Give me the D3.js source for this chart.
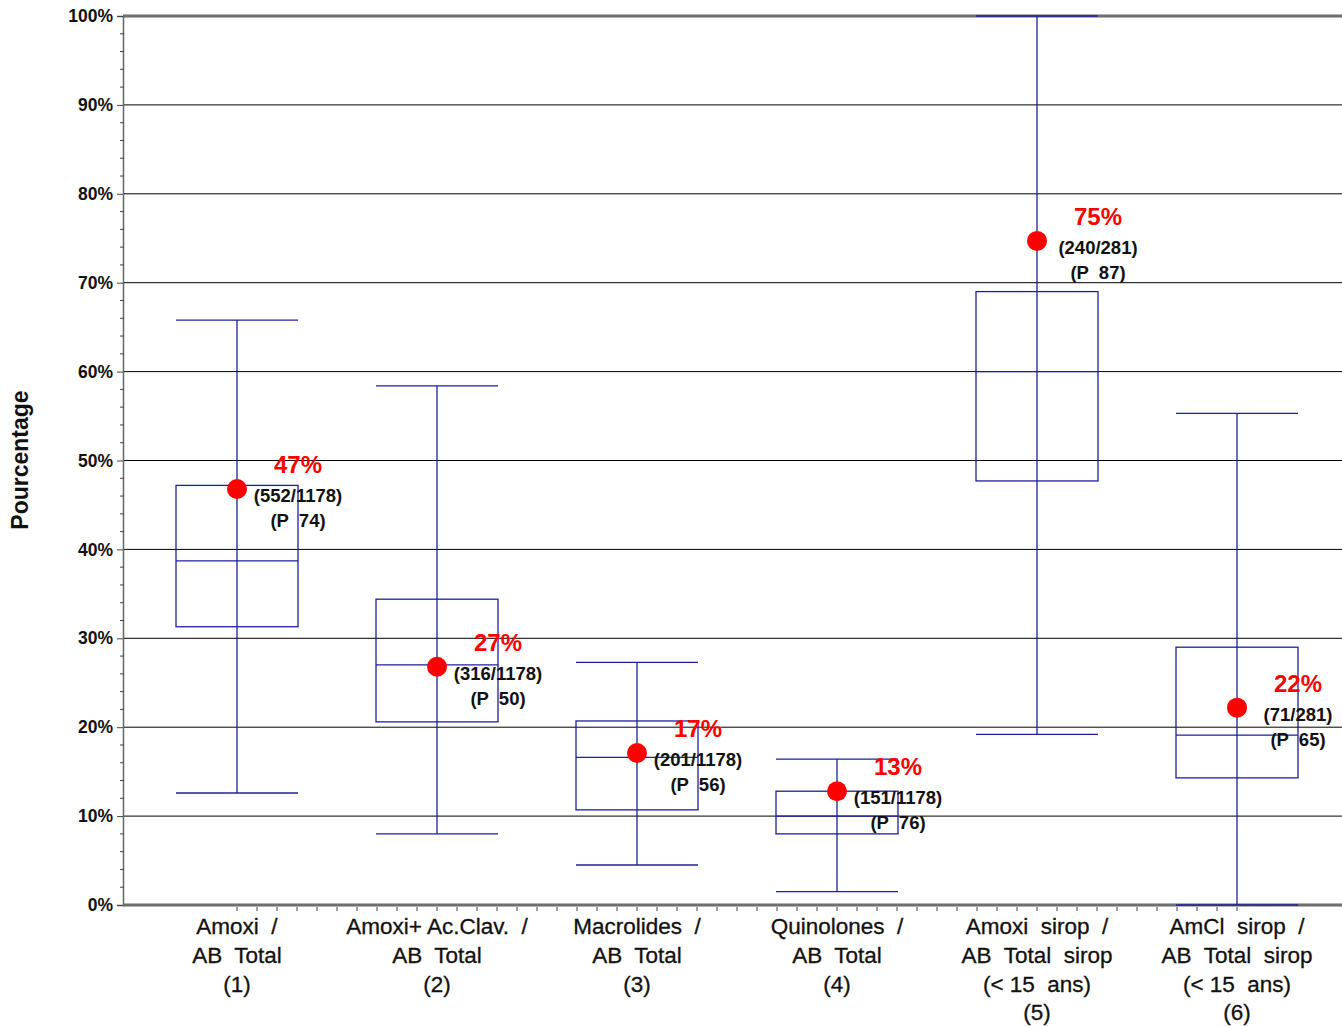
<!DOCTYPE html>
<html>
<head>
<meta charset="utf-8">
<script src="https://cdn.jsdelivr.net/npm/d3@7"></script>
<style>
  body { margin: 0; background: #fff; }
  svg { font-family: "Liberation Sans", Arial, sans-serif; }
</style>
</head>
<body>
<div class="chart"></div>
<script>
var categories = ["c1", "c2", "c3", "c4", "c5", "c6"];
var catLabels = [
    ["Amoxi  /", "AB  Total", "(1)"],
    ["Amoxi+ Ac.Clav.  /", "AB  Total", "(2)"],
    ["Macrolides  /", "AB  Total", "(3)"],
    ["Quinolones  /", "AB  Total", "(4)"],
    ["Amoxi  sirop  /", "AB  Total  sirop", "(< 15  ans)", "(5)"],
    ["AmCl  sirop  /", "AB  Total  sirop", "(< 15  ans)", "(6)"]
];
var whiskerLow  = [12.6, 8.0, 4.5, 1.5, 19.2, 0];
var q1          = [31.3, 20.6, 10.7, 8.0, 47.7, 14.3];
var median      = [38.7, 27.0, 16.6, 10.0, 60.0, 19.1];
var q3          = [47.2, 34.4, 20.7, 12.8, 69.0, 29.0];
var whiskerHigh = [65.8, 58.4, 27.3, 16.4, 100, 55.3];
var pointValue  = [46.8, 26.8, 17.1, 12.8, 74.7, 22.2];
var pctLabels   = ["47%", "27%", "17%", "13%", "75%", "22%"];
var countLabels = ["(552/1178)", "(316/1178)", "(201/1178)", "(151/1178)", "(240/281)", "(71/281)"];
var pLabels     = ["(P  74)", "(P  50)", "(P  56)", "(P  76)", "(P  87)", "(P  65)"];
var yTicks = [0, 10, 20, 30, 40, 50, 60, 70, 80, 90, 100];

var chartW = 1342, chartH = 1026;
var plotLeft = 123, plotTop = 16, plotBottom = 905;
var boxColor = "#1f1f9e";

var svg = d3.select(".chart").append("svg")
    .attr("width", chartW)
    .attr("height", chartH);

var y = d3.scaleLinear().domain([0, 100]).range([plotBottom, plotTop]);
var x = d3.scaleBand().domain(categories).range([137, 1337]).padding(0);
var cx = function(i) { return x(categories[i]) + x.bandwidth() / 2; };
var boxW = x.bandwidth() * 0.61;

// gridlines
svg.append("g").selectAll("line")
    .data(yTicks.filter(function(d) { return d > 0 && d < 100; }))
    .join("line")
    .attr("x1", plotLeft).attr("x2", chartW)
    .attr("y1", function(d) { return y(d); })
    .attr("y2", function(d) { return y(d); })
    .attr("stroke", "#000")
    .attr("stroke-width", 1);

// frame top & bottom (double grey lines)
[0, 100].forEach(function(v) {
    svg.append("line")
        .attr("x1", plotLeft).attr("x2", chartW)
        .attr("y1", y(v)).attr("y2", y(v))
        .attr("stroke", "#999").attr("stroke-width", 3.5);
    svg.append("line")
        .attr("x1", plotLeft).attr("x2", chartW)
        .attr("y1", y(v)).attr("y2", y(v))
        .attr("stroke", "#444").attr("stroke-width", 1);
});

// y axis
var yAxis = svg.append("g")
    .attr("transform", "translate(" + plotLeft + ",0)")
    .call(d3.axisLeft(y).tickValues(yTicks).tickSize(6).tickPadding(4)
        .tickFormat(function(d) { return d + "%"; }));
yAxis.select(".domain").attr("stroke", "#666").attr("stroke-width", 1.5);
yAxis.selectAll(".tick line").attr("stroke", "#444");
yAxis.selectAll("text")
    .attr("font-size", 17.5)
    .attr("font-weight", "bold")
    .attr("fill", "#111")
    .attr("font-family", "Liberation Sans, Arial, sans-serif");

svg.append("g").selectAll("line")
    .data(d3.range(0, 100, 2).filter(function(d) { return d % 10 !== 0; }))
    .join("line")
    .attr("x1", plotLeft - 3).attr("x2", plotLeft + 1)
    .attr("y1", function(d) { return y(d); })
    .attr("y2", function(d) { return y(d); })
    .attr("stroke", "#444");

// x minor ticks
var xMinor = d3.scaleLinear().domain([0, categories.length - 1]).range([cx(0), cx(categories.length - 1)]);
svg.append("g").selectAll("line")
    .data(d3.range(0, 50.5, 1).map(function(d) { return d / 10; }))
    .join("line")
    .attr("x1", function(d) { return xMinor(d); })
    .attr("x2", function(d) { return xMinor(d); })
    .attr("y1", plotBottom + 2).attr("y2", plotBottom + 6)
    .attr("stroke", "#444");

// y title
svg.append("text")
    .attr("transform", "translate(28,460) rotate(-90)")
    .attr("text-anchor", "middle")
    .attr("font-size", 23)
    .attr("font-weight", "bold")
    .attr("fill", "#111")
    .text("Pourcentage");

// boxes
var boxes = svg.append("g").selectAll("g")
    .data(categories)
    .join("g");

boxes.append("line")
    .attr("x1", function(d, i) { return cx(i); })
    .attr("x2", function(d, i) { return cx(i); })
    .attr("y1", function(d, i) { return y(whiskerLow[i]); })
    .attr("y2", function(d, i) { return y(whiskerHigh[i]); })
    .attr("stroke", boxColor).attr("stroke-width", 1.3);

boxes.append("rect")
    .attr("x", function(d, i) { return cx(i) - boxW / 2; })
    .attr("y", function(d, i) { return y(q3[i]); })
    .attr("width", boxW)
    .attr("height", function(d, i) { return y(q1[i]) - y(q3[i]); })
    .attr("fill", "none")
    .attr("stroke", boxColor).attr("stroke-width", 1.3);

[whiskerLow, median, whiskerHigh].forEach(function(arr) {
    boxes.append("line")
        .attr("x1", function(d, i) { return cx(i) - boxW / 2; })
        .attr("x2", function(d, i) { return cx(i) + boxW / 2; })
        .attr("y1", function(d, i) { return y(arr[i]); })
        .attr("y2", function(d, i) { return y(arr[i]); })
        .attr("stroke", boxColor).attr("stroke-width", 1.3);
});

// points
boxes.append("circle")
    .attr("cx", function(d, i) { return cx(i); })
    .attr("cy", function(d, i) { return y(pointValue[i]); })
    .attr("r", 10)
    .attr("fill", "#ff0000");

// annotations
boxes.append("text")
    .attr("x", function(d, i) { return cx(i) + 61; })
    .attr("y", function(d, i) { return y(pointValue[i]) - 16; })
    .attr("text-anchor", "middle")
    .attr("font-size", 24)
    .attr("font-weight", "bold")
    .attr("fill", "#ff0000")
    .text(function(d, i) { return pctLabels[i]; });

boxes.append("text")
    .attr("x", function(d, i) { return cx(i) + 61; })
    .attr("y", function(d, i) { return y(pointValue[i]) + 13; })
    .attr("text-anchor", "middle")
    .attr("font-size", 18.5)
    .attr("font-weight", "bold")
    .attr("fill", "#111")
    .text(function(d, i) { return countLabels[i]; });

boxes.append("text")
    .attr("x", function(d, i) { return cx(i) + 61; })
    .attr("y", function(d, i) { return y(pointValue[i]) + 38; })
    .attr("text-anchor", "middle")
    .attr("font-size", 18.5)
    .attr("font-weight", "bold")
    .attr("fill", "#111")
    .style("white-space", "pre")
    .text(function(d, i) { return pLabels[i]; });

// category labels
var labels = svg.append("g").selectAll("text")
    .data(categories)
    .join("text")
    .attr("text-anchor", "middle")
    .attr("font-size", 22.5)
    .attr("fill", "#111")
    .attr("stroke", "#111")
    .attr("stroke-width", 0.3)
    .style("white-space", "pre");

labels.selectAll("tspan")
    .data(function(d, i) { return catLabels[i].map(function(t) { return { t: t, i: i }; }); })
    .join("tspan")
    .attr("x", function(d) { return cx(d.i); })
    .attr("y", function(d, j) { return 934 + j * 28.8; })
    .text(function(d) { return d.t; });
</script>
</body>
</html>
